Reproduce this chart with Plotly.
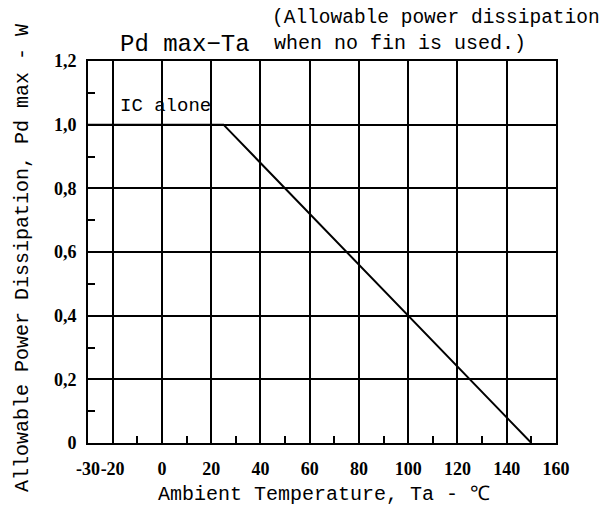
import plotly.graph_objects as go

# Data
temperature = [-30, 25, 150]          # Ta (°C)
pd_max = [1.0, 1.0, 0.0]              # Pd max (W)

x_tickvals = [-30, -20, 0, 20, 40, 60, 80, 100, 120, 140, 160]
x_ticktext = ["-30", "-20", "0", "20", "40", "60", "80", "100", "120", "140", "160"]
x_minor = [-10, 10, 30, 50, 70, 90, 110, 130, 150]

y_tickvals = [0, 0.2, 0.4, 0.6, 0.8, 1.0, 1.2]
y_ticktext = ["0", "0,2", "0,4", "0,6", "0,8", "1,0", "1,2"]
y_minor = [0.1, 0.3, 0.5, 0.7, 0.9, 1.1]

MONO = "Liberation Mono"
TICKF = "Liberation Serif"

fig = go.Figure()
fig.add_trace(go.Scatter(
    x=temperature, y=pd_max, mode="lines",
    line=dict(color="black", width=2), showlegend=False, hoverinfo="skip"))

axis_common = dict(
    showline=True, mirror=True, linecolor="black", linewidth=2,
    showgrid=True, gridcolor="black", gridwidth=1.6,
    zeroline=False, ticks="", automargin=False, tickangle=0,
)

fig.update_xaxes(
    range=[-30, 160], tickmode="array", tickvals=x_tickvals, ticktext=x_ticktext,
    tickfont=dict(family=TICKF, size=18, color="black", weight="bold"), ticklabelstandoff=8,
    minor=dict(tickmode="array", tickvals=x_minor, ticks="inside", ticklen=7,
               tickcolor="black", tickwidth=1.5, showgrid=False),
    **axis_common)
fig.update_yaxes(
    range=[0, 1.2], tickmode="array", tickvals=y_tickvals, ticktext=y_ticktext,
    tickfont=dict(family=TICKF, size=18, color="black", weight="bold"), ticklabelstandoff=6,
    minor=dict(tickmode="array", tickvals=y_minor, ticks="inside", ticklen=7,
               tickcolor="black", tickwidth=1.5, showgrid=False),
    **axis_common)

annos = [
    dict(text="(Allowable power dissipation", x=0.389, y=1.113, xref="paper", yref="paper",
         xanchor="left", yanchor="middle", font=dict(family=MONO, size=19.5, color="black")),
    dict(text="Pd max−Ta", x=0.064, y=1.043, xref="paper", yref="paper",
         xanchor="left", yanchor="middle", font=dict(family=MONO, size=24, color="black")),
    dict(text="when no fin is used.)", x=0.393, y=1.045, xref="paper", yref="paper",
         xanchor="left", yanchor="middle", font=dict(family=MONO, size=20, color="black")),
    dict(text="IC alone", x=-18, y=1.06, xref="x", yref="y",
         xanchor="left", yanchor="middle", font=dict(family=MONO, size=19, color="black")),
    dict(text="Allowable Power Dissipation, Pd max - W", x=-0.141, y=0.484,
         xref="paper", yref="paper", textangle=-90, xanchor="center", yanchor="middle",
         font=dict(family=MONO, size=20, color="black")),
    dict(text="Ambient Temperature, Ta - ℃", x=0.504, y=-0.136,
         xref="paper", yref="paper", xanchor="center", yanchor="middle",
         font=dict(family=MONO, size=20, color="black")),
]
for a in annos:
    fig.add_annotation(showarrow=False, **a)

# The page body adds an 8px offset, so the figure is 8px smaller and the
# left/top margins 8px narrower to land the plot area where the reference has it.
fig.update_layout(
    width=601, height=514,
    margin=dict(l=80, r=53, t=53, b=79),
    paper_bgcolor="white", plot_bgcolor="white",
)

fig.write_html("out.html")
